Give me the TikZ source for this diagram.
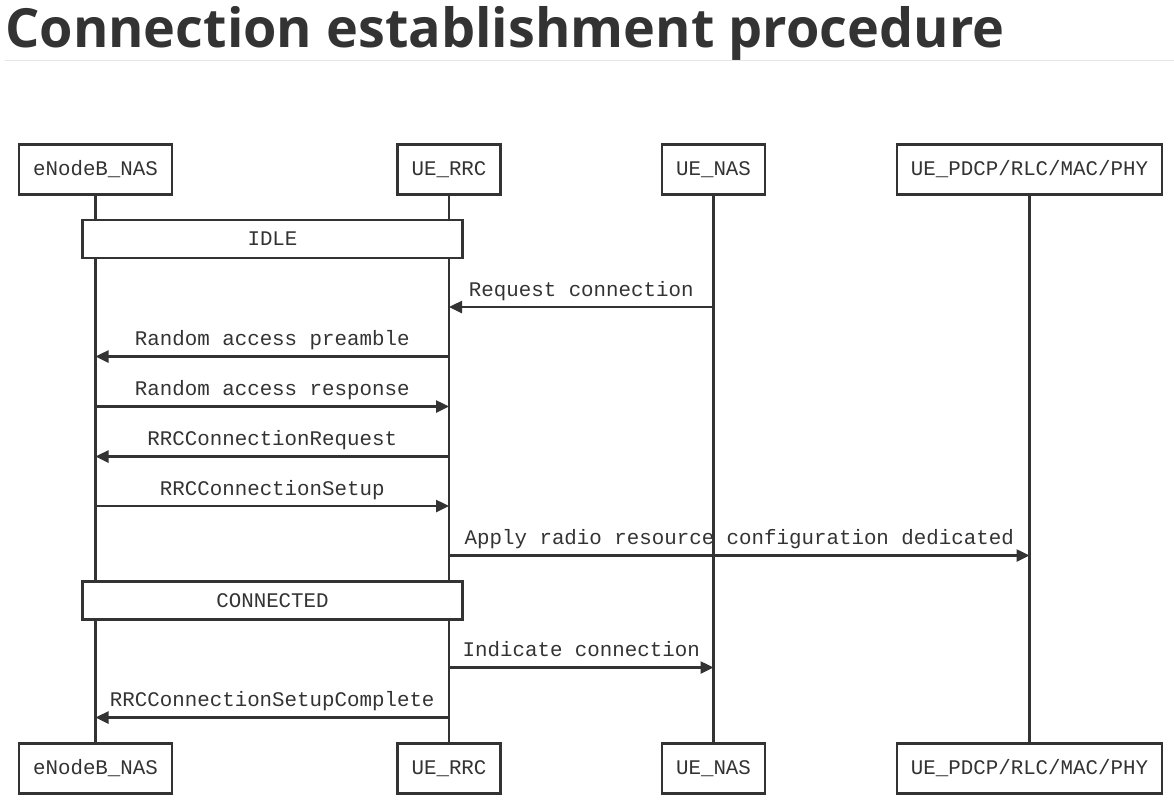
\documentclass[tikz,border=0pt]{standalone}
\usepackage{fontspec}
\setmonofont{Liberation Mono}
\newfontfamily\titlefont{Open Sans}
\usetikzlibrary{arrows.meta}
\definecolor{ink}{HTML}{333333}
\definecolor{rule}{HTML}{E6E6E6}
\newcommand{\seqfont}{\ttfamily\fontsize{20.8}{24}\selectfont}

\begin{document}
\begin{tikzpicture}[x=1pt, y=-1pt,
		actor/.style = {draw=ink, line width=2.8pt, fill=white, minimum height=50pt, inner xsep=14pt, font=\seqfont, text=ink},
		state/.style = {draw=ink, line width=2.8pt, fill=white, minimum width=380pt, minimum height=38pt, font=\seqfont, text=ink},
		life/.style = {draw=ink, line width=2.5pt},
		msg/.style = {draw=ink, line width=2.5pt, -{Triangle[length=13pt,width=12pt]}},
		lbl/.style = {font=\seqfont, text=ink, anchor=base, yshift=11pt, inner sep=0pt}]
		\useasboundingbox (0,0) rectangle (1174,804);
		% title
		\node[anchor=base west, inner sep=0pt, text=ink, font=\titlefont\bfseries\fontsize{54}{58}\selectfont] (title) at (5,47) {Connection establishment procedure};
		\draw[rule, line width=1pt] (5,60) -- (1174,60);
		% participants
		\node[actor] (enbT) at (95.5,169.5) {eNodeB\_NAS};
		\node[actor] (rrcT) at (449,169.5) {UE\_RRC};
		\node[actor] (nasT) at (713.5,169.5) {UE\_NAS};
		\node[actor] (phyT) at (1029.5,169.5) {UE\_PDCP/RLC/MAC/PHY};
		\node[actor] (enbB) at (95.5,768.5) {eNodeB\_NAS};
		\node[actor] (rrcB) at (449,768.5) {UE\_RRC};
		\node[actor] (nasB) at (713.5,768.5) {UE\_NAS};
		\node[actor] (phyB) at (1029.5,768.5) {UE\_PDCP/RLC/MAC/PHY};
		% lifelines
		\draw[life] (enbT) -- (enbB);
		\draw[life] (rrcT) -- (rrcB);
		\draw[life] (nasT) -- (nasB);
		\draw[life] (phyT) -- (phyB);
		% states
		\node[state] (idle) at (272.5,239) {IDLE};
		\node[state] (conn) at (272.5,600.5) {CONNECTED};
		% message rows
		\coordinate (m1) at (0,307);
		\coordinate (m2) at (0,356.5);
		\coordinate (m3) at (0,406.5);
		\coordinate (m4) at (0,456.5);
		\coordinate (m5) at (0,506);
		\coordinate (m6) at (0,555.5);
		\coordinate (m7) at (0,667.5);
		\coordinate (m8) at (0,717.5);
		% messages
		\draw[msg] (nasT |- m1) -- node[lbl] {Request connection} (rrcT |- m1);
		\draw[msg] (rrcT |- m2) -- node[lbl] {Random access preamble} (enbT |- m2);
		\draw[msg] (enbT |- m3) -- node[lbl] {Random access response} (rrcT |- m3);
		\draw[msg] (rrcT |- m4) -- node[lbl] {RRCConnectionRequest} (enbT |- m4);
		\draw[msg] (enbT |- m5) -- node[lbl] {RRCConnectionSetup} (rrcT |- m5);
		\draw[msg] (rrcT |- m6) -- node[lbl] {Apply radio resource configuration dedicated} (phyT |- m6);
		\draw[msg] (rrcT |- m7) -- node[lbl] {Indicate connection} (nasT |- m7);
		\draw[msg] (rrcT |- m8) -- node[lbl] {RRCConnectionSetupComplete} (enbT |- m8);
	\end{tikzpicture}
\end{document}
